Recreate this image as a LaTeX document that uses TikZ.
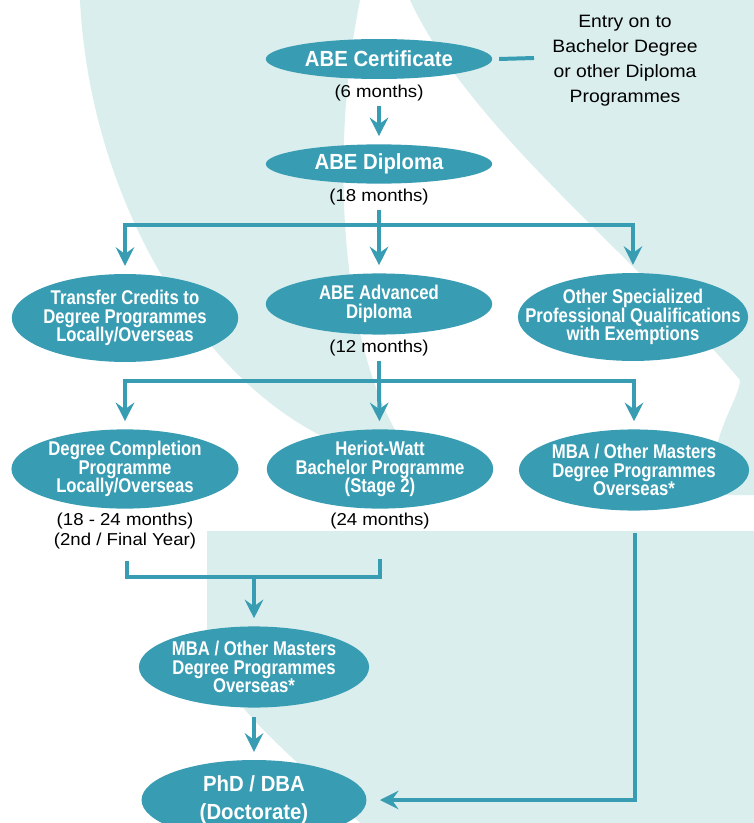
\documentclass[tikz,border=0pt]{standalone}
\usepackage{fontspec}
\setmainfont[FakeStretch=1.08]{Liberation Sans}
\newfontfamily\progfont[FakeStretch=0.84]{Liberation Sans}
\newfontfamily\bigprogfont[FakeStretch=0.93]{Liberation Sans}
\usetikzlibrary{shapes.geometric,arrows.meta}
\definecolor{abeteal}{RGB}{56,157,179}
\definecolor{paleteal}{RGB}{218,238,237}

\tikzset{
  prog/.style={ellipse, fill=abeteal, text=white, inner sep=-100pt, align=center,
    font=\progfont\bfseries\fontsize{15}{14.2}\selectfont},
  bigprog/.style={prog, font=\bigprogfont\bfseries\fontsize{16.5}{21}\selectfont},
  months/.style={align=center, font=\fontsize{13}{15.3}\selectfont},
  entrytext/.style={align=center, font=\fontsize{13.5}{19}\selectfont},
  link/.style={abeteal, line width=3pt},
  flow/.style={link, -{Stealth[length=14pt,width=14pt,inset=5pt]}, shorten >=6pt},
}

\begin{document}
\begin{tikzpicture}[x=0.0265cm,y=-0.0265cm]
\useasboundingbox (0,0) rectangle (754,823);
\clip (0,0) rectangle (754,823);

% background
\fill[white] (0,0) rectangle (754,823);
\fill[paleteal] (80,0) -- (360,0) .. controls (330,150) and (340,330) .. (395,430)
  -- (330,440) .. controls (200,380) and (90,200) .. (80,0) -- cycle;
\fill[paleteal] (410,0) -- (754,0) -- (754,495) -- (715,495)
  .. controls (705,440) and (740,400) .. (740,380)
  .. controls (640,260) and (470,130) .. (410,0) -- cycle;
\fill[paleteal] (207,531) -- (754,531) -- (754,823) -- (360,823)
  .. controls (300,760) and (215,700) .. (207,640) -- cycle;

% top
\node[bigprog, minimum width=6cm, minimum height=1.06cm] (cert) at (379,59) {ABE Certificate};
\node[months] (certmon) at (379,93) {(6 months)};
\node[entrytext] (entry) at (625,60.5) {Entry on to\\Bachelor Degree\\or other Diploma\\Programmes};
\coordinate (entrytip) at (534,58);
\draw[link] ([xshift=5pt]cert.east) -- (entrytip);

\node[bigprog, minimum width=6cm, minimum height=1.04cm] (dipl) at (379,164) {ABE Diploma};
\node[months] (diplmon) at (379,197) {(18 months)};
\draw[flow] (certmon) -- (dipl);

% second row
\node[prog, minimum width=6cm, minimum height=2.33cm] (transfer) at (125,318)
  {Transfer Credits to\\Degree Programmes\\Locally/Overseas};
\node[prog, minimum width=6cm, minimum height=1.62cm] (adv) at (379,304)
  {ABE Advanced\\Diploma};
\node[months] (advmon) at (379,348) {(12 months)};
\node[prog, minimum width=6.1cm, minimum height=2.33cm] (other) at (633,317)
  {Other Specialized\\Professional Qualifications\\with Exemptions};

\coordinate (split1) at (379,225);
\draw[link] (diplmon) -- (split1);
\draw[flow] (split1) -| (transfer);
\draw[flow] (split1) -- (adv);
\draw[flow] (split1) -| (other);

% third row
\node[prog, minimum width=6.02cm, minimum height=2.1cm] (degcomp) at (125,469)
  {Degree Completion\\Programme\\Locally/Overseas};
\node[months] (degmon) at (125,531) {(18 - 24 months)\\(2nd / Final Year)};
\node[prog, minimum width=6cm, minimum height=2.1cm] (hw) at (380,469)
  {Heriot-Watt\\Bachelor Programme\\(Stage 2)};
\node[months] (hwmon) at (380,521) {(24 months)};
\node[prog, minimum width=6.1cm, minimum height=2.15cm] (mbaa) at (634,470)
  {MBA / Other Masters\\Degree Programmes\\Overseas*};

\coordinate (split2) at (379,381);
\draw[link] (advmon) -- (split2);
\draw[flow] (split2) -| (degcomp);
\draw[flow] (split2) -- (hw);
\draw[flow] (split2) -| (mbaa);

% bottom
\node[prog, minimum width=6.1cm, minimum height=2.15cm] (mbab) at (254,667)
  {MBA / Other Masters\\Degree Programmes\\Overseas*};
\node[bigprog, minimum width=5.96cm, minimum height=2.12cm] (phd) at (254,800)
  {PhD / DBA\\(Doctorate)};

\coordinate (brl) at (127,561);
\coordinate (brr) at (380,559);
\coordinate (brm) at (254,577);
\draw[link] (brl) |- (brm) -| (brr);
\draw[flow] (brm) -- (mbab);
\draw[flow, shorten <=7pt] (mbab) -- (phd);

\coordinate (rdrop) at (635,533);
\draw[flow, shorten >=10pt] (rdrop) |- (phd);
\end{tikzpicture}
\end{document}
